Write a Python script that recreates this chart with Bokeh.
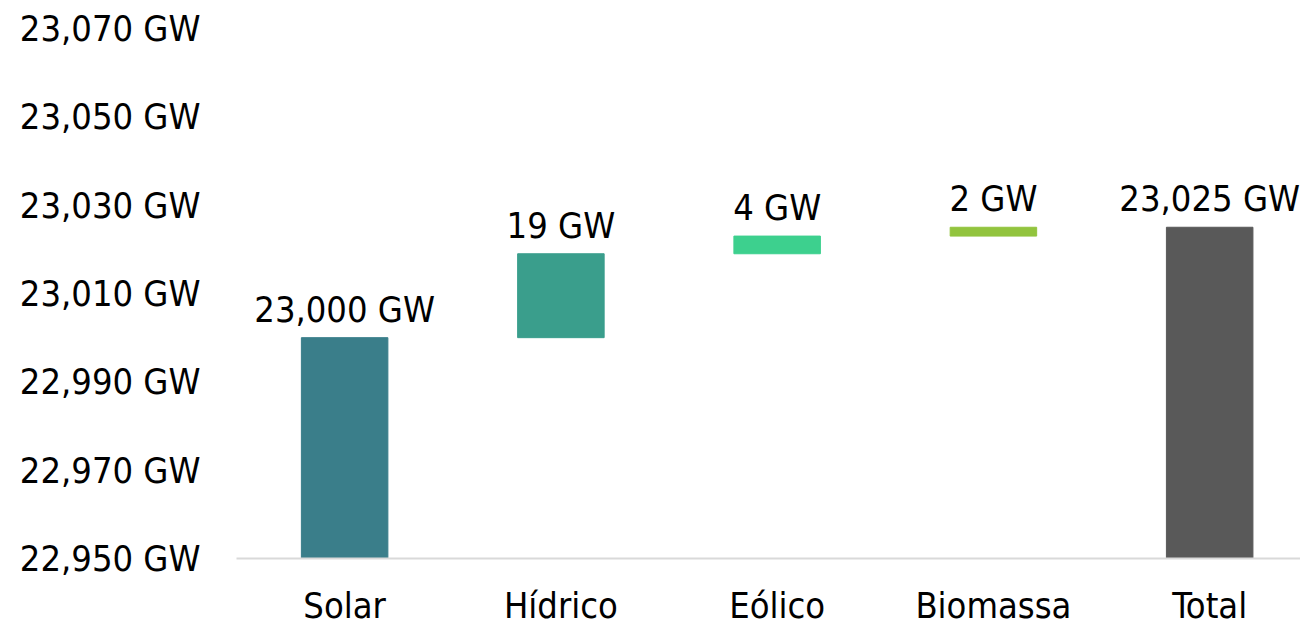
from bokeh.plotting import figure
from bokeh.models import ColumnDataSource, FixedTicker, Range1d
from bokeh.embed import file_html
from bokeh.resources import INLINE

categories = ["Solar", "Hídrico", "Eólico", "Biomassa", "Total"]
increments = [23000, 19, 4, 2]
colors = ["#3A7E8A", "#3A9E8C", "#3DD08E", "#92C43E", "#595959"]
y_ticks = [22950, 22970, 22990, 23010, 23030, 23050, 23070]
axis_base = 22950

FONT = "DejaVu Sans Condensed"
FS = "36px"

bottoms, tops, labels = [], [], []
run = 0
for i, v in enumerate(increments):
    b = axis_base if i == 0 else run
    run += v
    bottoms.append(b)
    tops.append(run)
    labels.append(f"{v:,} GW")
bottoms.append(axis_base)
tops.append(run)
labels.append(f"{run:,} GW")

src = ColumnDataSource(dict(x=list(range(len(categories))), bottom=bottoms, top=tops,
                            color=colors, label=labels))

p = figure(width=1300, height=628, output_backend="svg", toolbar_location=None,
           x_range=Range1d(-0.5, 4.42), y_range=Range1d(22950, 23070),
           min_border_left=236, min_border_right=0, min_border_top=28, min_border_bottom=70)
p.outline_line_color = None
p.grid.grid_line_color = None
p.background_fill_color = "white"

p.vbar(x="x", bottom="bottom", top="top", width=0.40, color="color", source=src)
p.text(x="x", y="top", text="label", source=src, text_align="center", text_baseline="bottom",
       y_offset=-8, text_font_size=FS, text_color="#000000",
       text_font={"value": FONT})

p.yaxis.ticker = FixedTicker(ticks=y_ticks)
p.yaxis.major_label_overrides = {t: f"{t:,} GW" for t in y_ticks}
p.yaxis.axis_line_color = None
p.yaxis.major_tick_line_color = None
p.yaxis.minor_tick_line_color = None
p.yaxis.major_label_standoff = 30
p.yaxis.major_label_text_font = FONT
p.yaxis.major_label_text_font_size = FS
p.yaxis.major_label_text_color = "#000000"

p.xaxis.ticker = FixedTicker(ticks=list(range(len(categories))))
p.xaxis.major_label_overrides = {i: c for i, c in enumerate(categories)}
p.xaxis.axis_line_color = "#D9D9D9"
p.xaxis.axis_line_width = 2
p.xaxis.major_tick_line_color = None
p.xaxis.minor_tick_line_color = None
p.xaxis.major_label_standoff = 20
p.xaxis.major_label_text_font = FONT
p.xaxis.major_label_text_font_size = FS
p.xaxis.major_label_text_color = "#000000"

open("out.html", "w").write(file_html(p, INLINE))
